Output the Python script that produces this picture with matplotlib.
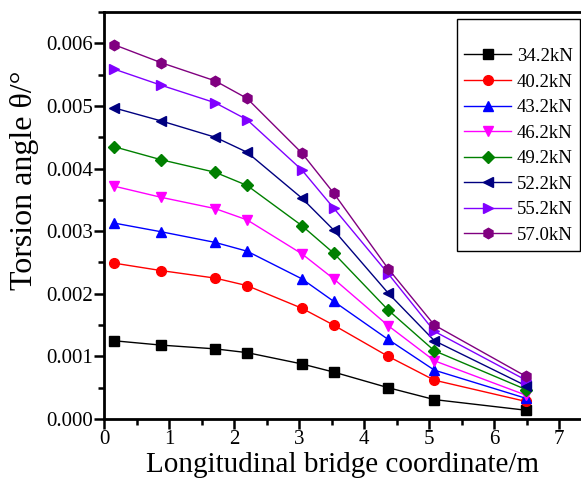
import matplotlib
matplotlib.use("Agg")

import matplotlib.pyplot as plt
from matplotlib.ticker import MultipleLocator, FormatStrFormatter

plt.rcParams["font.family"] = ["Liberation Serif", "DejaVu Serif"]
plt.rcParams["mathtext.fontset"] = "stix"

# longitudinal coordinate (m)
x = [0.15, 0.88, 1.71, 2.20, 3.04, 3.53, 4.37, 5.08, 6.49]

loads = ["34.2kN", "40.2kN", "43.2kN", "46.2kN", "49.2kN", "52.2kN", "55.2kN", "57.0kN"]

# torsion angle (deg)
t_342 = [0.00125, 0.00118, 0.00112, 0.00106, 0.00088, 0.00075, 0.00050, 0.00031, 0.00014]
t_402 = [0.00249, 0.00237, 0.00225, 0.00213, 0.00177, 0.00150, 0.00100, 0.00062, 0.00028]
t_432 = [0.00313, 0.00299, 0.00282, 0.00268, 0.00224, 0.00188, 0.00127, 0.00078, 0.00033]
t_462 = [0.00372, 0.00354, 0.00336, 0.00318, 0.00264, 0.00224, 0.00149, 0.00093, 0.00038]
t_492 = [0.00435, 0.00414, 0.00394, 0.00373, 0.00309, 0.00265, 0.00174, 0.00109, 0.00047]
t_522 = [0.00497, 0.00476, 0.00450, 0.00426, 0.00353, 0.00302, 0.00201, 0.00125, 0.00053]
t_552 = [0.00559, 0.00533, 0.00505, 0.00478, 0.00398, 0.00337, 0.00232, 0.00140, 0.00062]
t_570 = [0.00598, 0.00569, 0.00540, 0.00512, 0.00425, 0.00361, 0.00240, 0.00150, 0.00068]

series = [t_342, t_402, t_432, t_462, t_492, t_522, t_552, t_570]
colors = ["#000000", "#ff0000", "#0000ff", "#ff00ff", "#008000", "#000080", "#8000ff", "#800080"]
markers = ["s", "o", "^", "v", "D", "<", ">", "h"]
sizes = [6.5, 7, 7.5, 7.5, 6.5, 7.5, 7.5, 7.5]

fig = plt.figure(figsize=(5.81, 4.90), dpi=100)
ax = fig.add_axes([104 / 581, 71 / 490, 478 / 581, 407 / 490])

for vals, lab, c, m, ms in zip(series, loads, colors, markers, sizes):
    ax.plot(x, vals, color=c, marker=m, markersize=ms, linewidth=1.0, label=lab)

ax.set_xlim(0, 7.35)
ax.set_ylim(0, 0.0065)
ax.xaxis.set_major_locator(MultipleLocator(1))
ax.xaxis.set_minor_locator(MultipleLocator(0.5))
ax.yaxis.set_major_locator(MultipleLocator(0.001))
ax.yaxis.set_minor_locator(MultipleLocator(0.0005))
ax.yaxis.set_major_formatter(FormatStrFormatter("%.3f"))

for s in ax.spines.values():
    s.set_linewidth(2)
ax.spines["right"].set_visible(False)

ax.tick_params(which="both", direction="out", width=1.8, labelsize=15, pad=1)
ax.tick_params(which="major", length=7)
ax.tick_params(which="minor", length=4)
ax.tick_params(top=False, right=False)

ax.set_xlabel("Longitudinal bridge coordinate/m", fontsize=21, labelpad=2)
ax.set_ylabel("Torsion angle θ/°", fontsize=23)
ax.yaxis.set_label_coords(-0.135, 0.587)

leg = ax.legend(loc="upper right", bbox_to_anchor=(0.996, 0.983), borderaxespad=0,
                fontsize=13.5, frameon=True, fancybox=False, edgecolor="black",
                framealpha=1, handlelength=2.5, labelspacing=0.45, borderpad=0.4,
                title=" ", title_fontsize=11, handletextpad=0.3)
leg.get_frame().set_linewidth(1.0)

fig.savefig("out.png", dpi=100)
plt.close(fig)
